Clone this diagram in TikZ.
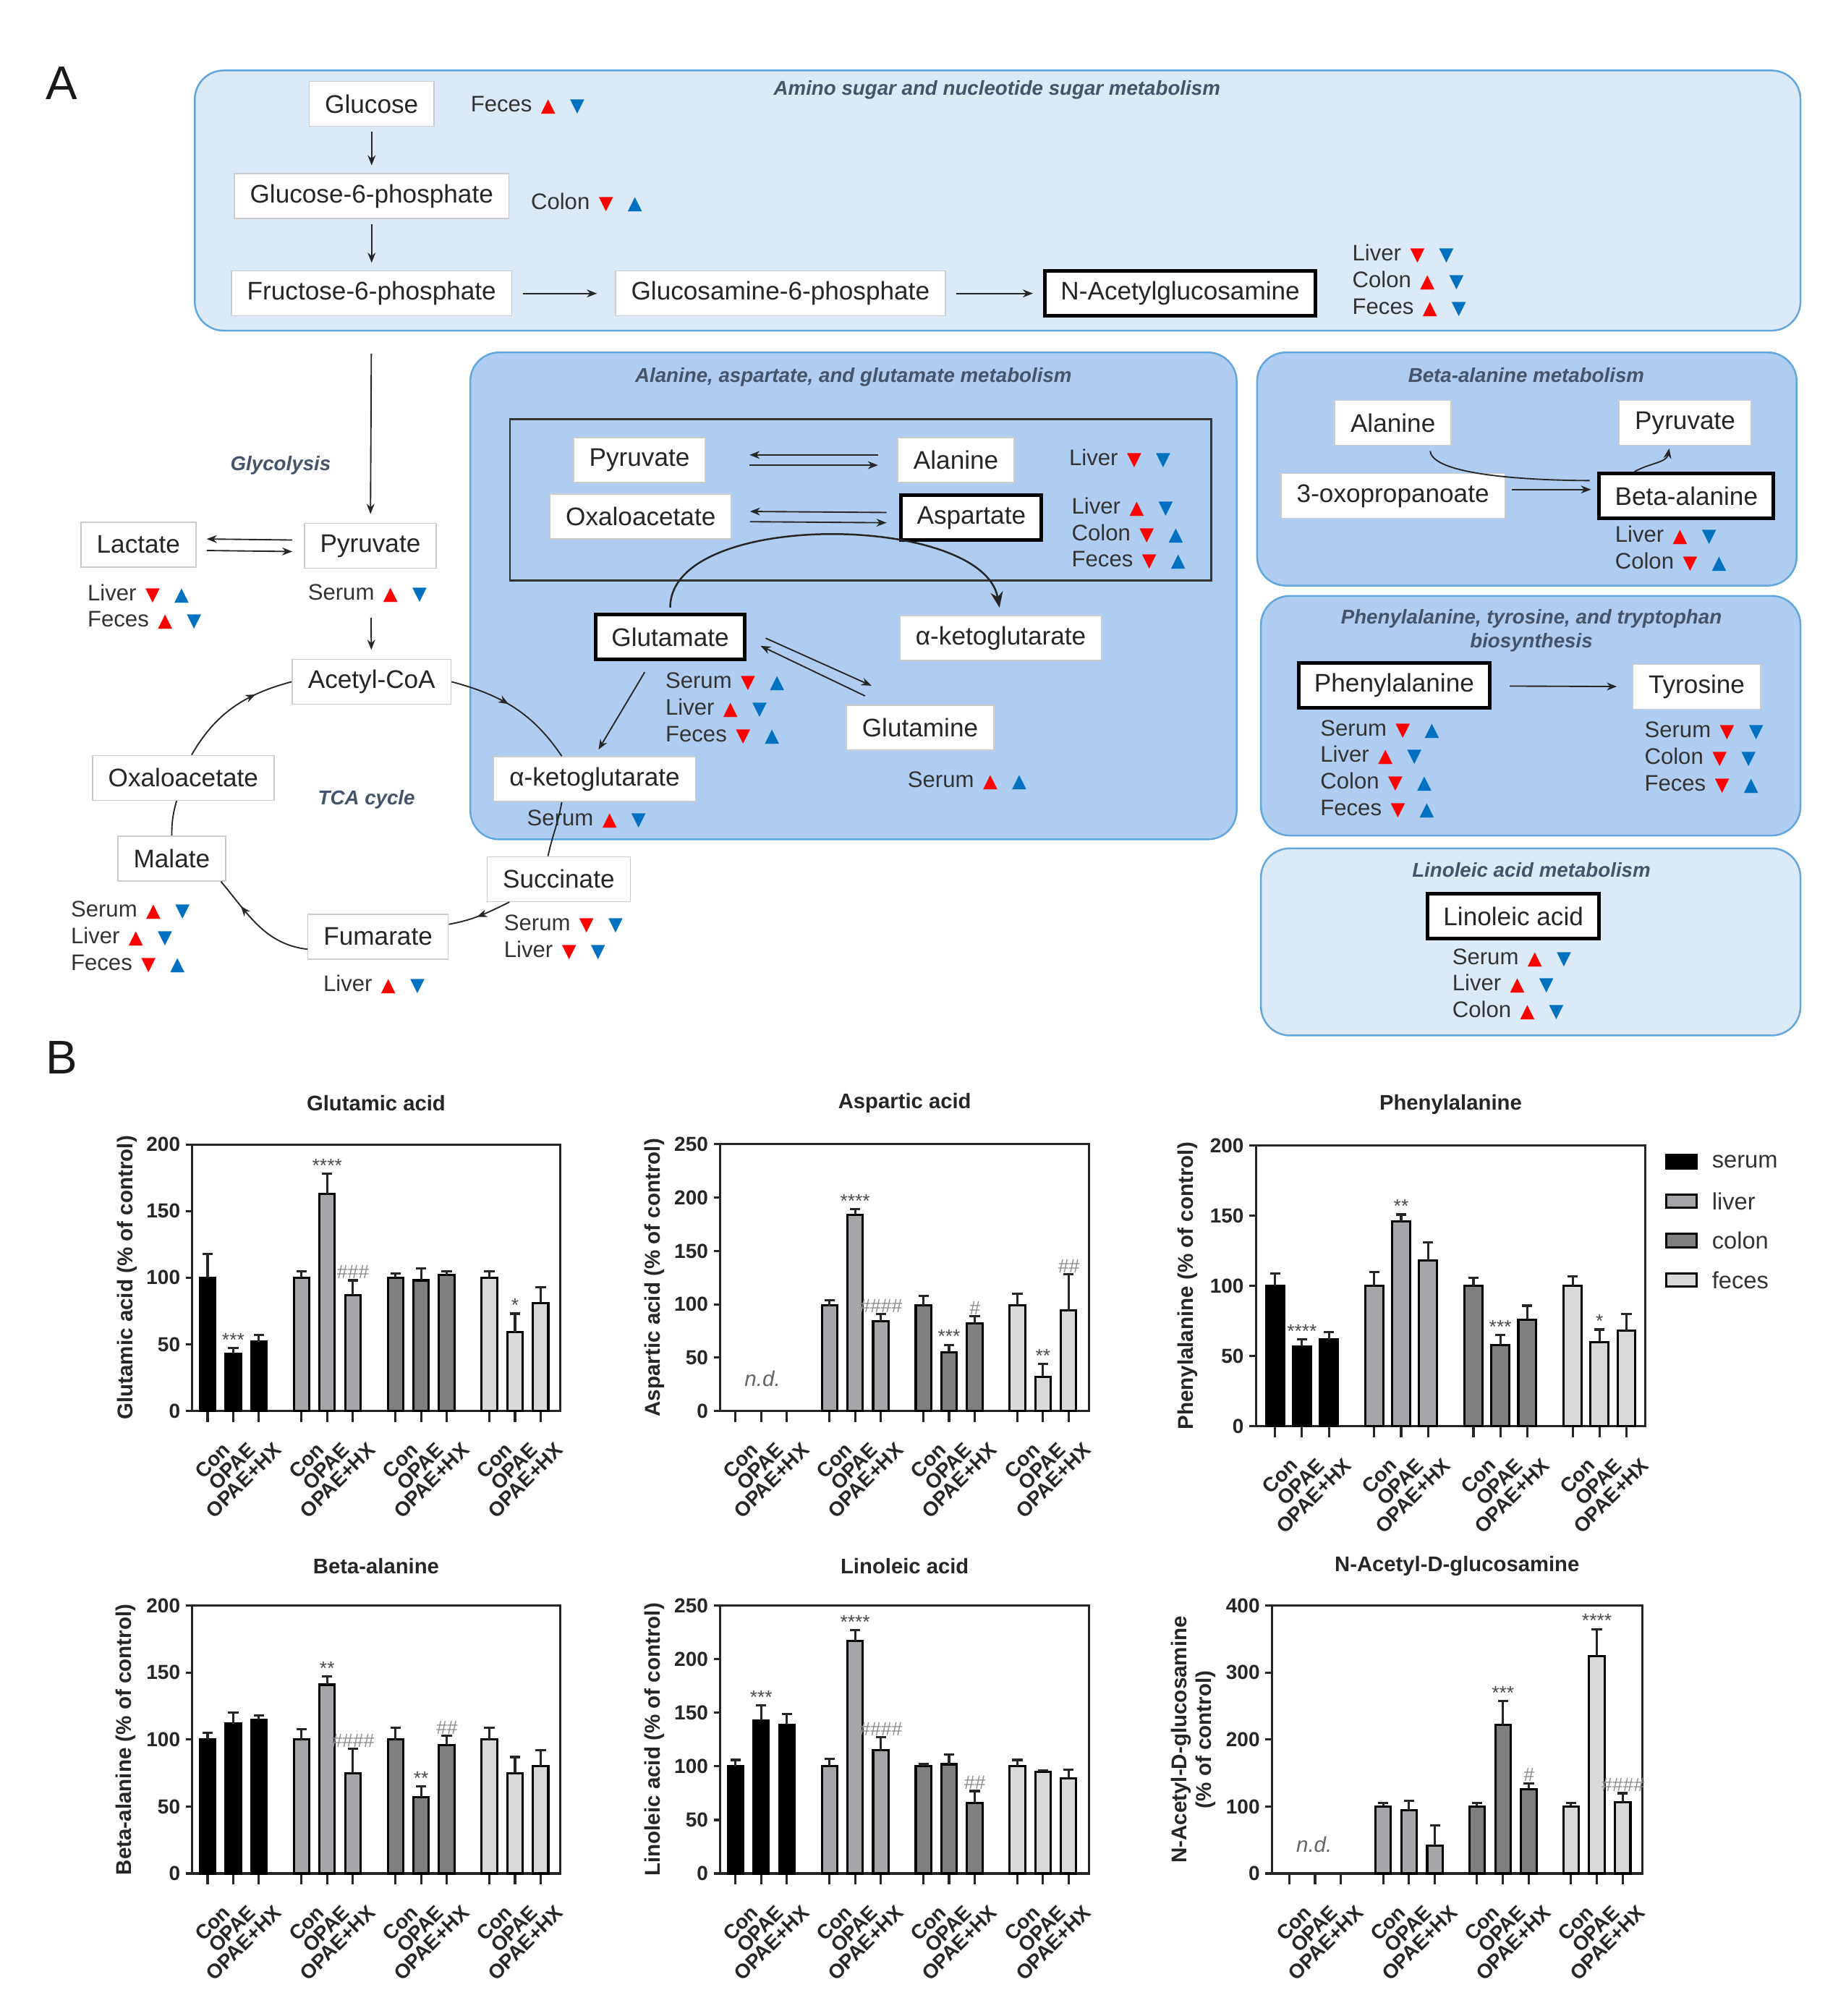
\documentclass[tikz,border=0pt]{standalone}
\usepackage{fontspec}
\setmainfont{Liberation Sans}
\newfontfamily\trisym{DejaVu Sans}
\usetikzlibrary{positioning}
\usetikzlibrary{arrows.meta}
\usetikzlibrary{calc}
\usetikzlibrary{decorations.markings}

\definecolor{pwlight}{HTML}{DCEAF7}
\definecolor{pwmid}{HTML}{AECDF1}
\definecolor{pwedge}{HTML}{62A6DE}
\definecolor{pwtext}{HTML}{44546A}
\definecolor{upred}{HTML}{FF0000}
\definecolor{upblue}{HTML}{0070C0}
\definecolor{tis0}{HTML}{000000}
\definecolor{tis1}{HTML}{A5A5AA}
\definecolor{tis2}{HTML}{7F7F7F}
\definecolor{tis3}{HTML}{D9D9D9}

\newcommand{\metfont}{\fontsize{11.3}{13.5}\selectfont}
\newcommand{\tisfont}{\fontsize{10}{11.8}\selectfont}
\newcommand{\titfont}{\fontsize{8.9}{10.6}\selectfont\bfseries\itshape}
\newcommand{\trifont}{\trisym\fontsize{8.3}{9}\selectfont}
\newcommand{\axfont}{\fontsize{9}{10.8}\selectfont\bfseries}
\newcommand{\upR}{\textcolor{upred}{\trifont ▲}}
\newcommand{\dnR}{\textcolor{upred}{\trifont ▼}}
\newcommand{\upB}{\textcolor{upblue}{\trifont ▲}}
\newcommand{\dnB}{\textcolor{upblue}{\trifont ▼}}
\newcommand{\trend}[3]{#1\hspace{0.4em}#2\hspace{0.65em}#3}
\newcommand{\hsh}[1]{\textcolor{black!45}{\itshape #1}}

% bar layout of one chart: offset, group gap, bar gap, half width
\newcommand{\barlayout}[4]{\def\boff{#1}\def\gsp{#2}\def\bsp{#3}\def\bhw{#4}}
\newcommand{\plotframe}[3]{%
  \draw[axis] (0,0) rectangle (#1,#2);
  \foreach \t in {#3} \draw[axis] (0,\t) -- ++(-0.1cm,0) node[ticklab] {\t};
  \foreach \g in {0,...,3} \foreach \j/\lab in {0/Con,1/OPAE,2/OPAE+HX} {
    \pgfmathsetmacro\bx{\boff+\gsp*\g+\bsp*\j}
    \draw[axis] (\bx,0) -- ++(0,-0.17cm);
    \node[catlab, xshift=-0.18cm, yshift=-0.6cm] at (\bx,0) {\lab};
  }}
\newcommand{\plotbars}[1]{%
  \foreach \g/\j/\v/\e/\m in {#1} {
    \pgfmathsetmacro\bx{\boff+\gsp*\g+\bsp*\j}
    \draw[barbox, fill=tis\g] (\bx-\bhw,0) rectangle (\bx+\bhw,\v);
    \draw[axis] (\bx,\v) -- (\bx,\v+\e) ++(-4,0) -- ++(8,0);
    \node[sig] at (\bx,\v+\e) {\m};
  }}

\tikzset{
  metab/.style={draw=black!20, fill=white, text=black!85, font=\metfont,
    minimum height=0.7cm, inner xsep=7pt, line width=0.5pt},
  keymetab/.style={metab, draw=black, line width=1.6pt}, % highlighted metabolites
  tissue/.style={font=\tisfont, text=black!80, align=left, anchor=west, inner sep=0pt},
  pwtitle/.style={font=\titfont, text=pwtext, align=center},
  panel/.style={draw=pwedge, line width=0.8pt, rounded corners=0.45cm},
  conv/.style={->, draw=black!85, line width=0.6pt, shorten <=0.08cm, shorten >=0.12cm},
  cyc/.style={draw=black!85, line width=0.6pt},
  midarrow/.style={postaction={decorate}, decoration={markings,
    mark=at position #1 with {\arrow{Stealth[length=4.5pt,width=3.5pt]}}}},
  axis/.style={draw=black!85, line width=1pt},
  barbox/.style={draw=black, line width=1pt},
  ticklab/.style={left, font=\axfont, text=black!85, inner sep=2pt},
  catlab/.style={font=\axfont, text=black!85, rotate=45, anchor=east, inner sep=0pt},
  sig/.style={font=\fontsize{8.5}{9}\selectfont, text=black!70, anchor=south, inner sep=0.5pt},
  ptitle/.style={font=\fontsize{9.4}{11}\selectfont\bfseries, text=black!85},
  ylab/.style={font=\fontsize{9.5}{11}\selectfont\bfseries, text=black!85, rotate=90, align=center},
  ndlab/.style={font=\fontsize{9.5}{11}\selectfont\itshape, text=black!60},
  legbox/.style={draw=black, line width=1pt, minimum width=0.47cm, minimum height=0.21cm, inner sep=0pt},
  legtext/.style={font=\fontsize{10.5}{12}\selectfont, text=black!80, inner sep=0pt},
  >={Stealth[length=4.5pt,width=3.5pt]}
}

\begin{document}
\begin{tikzpicture}[x=0.02cm, y=0.02cm]
\useasboundingbox (0,0) rectangle (1440,-1573.2);

% panel A: pathway boxes
\draw[panel, fill=pwlight] (152,-55) rectangle (1405,-258);
\draw[panel, fill=pwmid] (367,-275) rectangle (965,-655);
\draw[panel, fill=pwmid] (981,-275) rectangle (1402,-457);
\draw[panel, fill=pwmid] (984,-465) rectangle (1405,-652);
\draw[panel, fill=pwlight] (984,-662) rectangle (1405,-808);
\draw[black!80, line width=0.9pt] (398,-327) rectangle (945,-453);

\node[font=\fontsize{21}{24}\selectfont, text=black!90] (labA) at (48,-65) {A};
\node[font=\fontsize{21}{24}\selectfont, text=black!90] (labB) at (48,-825) {B};

\node[pwtitle] (tamino) at (778,-70) {Amino sugar and nucleotide sugar metabolism};
\node[pwtitle] (tala) at (666,-294) {Alanine, aspartate, and glutamate metabolism};
\node[pwtitle] (tbeta) at (1191,-293) {Beta-alanine metabolism};
\node[pwtitle] (tphe) at (1195,-492) {Phenylalanine, tyrosine, and tryptophan\\biosynthesis};
\node[pwtitle] (tlin) at (1195,-679) {Linoleic acid metabolism};
\node[pwtitle] (tglyc) at (219,-363) {Glycolysis};
\node[pwtitle] (ttca) at (286,-624) {TCA cycle};

% metabolites
\node[metab] (glc) at (290,-81) {Glucose};
\node[metab] (g6p) at (290,-153) {Glucose-6-phosphate};
\node[metab] (f6p) at (290,-229) {Fructose-6-phosphate};
\node[metab] (gn6p) at (609,-229) {Glucosamine-6-phosphate};
\node[keymetab] (nag) at (921,-229) {N-Acetylglucosamine};
\node[metab] (lac) at (108,-425) {Lactate};
\node[metab] (pyr1) at (289,-426) {Pyruvate};
\node[metab] (acoa) at (290,-532) {Acetyl-CoA};
\node[metab] (oaa1) at (143,-607) {Oxaloacetate};
\node[metab] (mal) at (134,-670) {Malate};
\node[metab] (fum) at (295,-731) {Fumarate};
\node[metab] (succ) at (436,-686) {Succinate};
\node[metab] (akg2) at (464,-608) {α-ketoglutarate};
\node[metab] (pyr2) at (499,-359) {Pyruvate};
\node[metab] (ala1) at (746,-359) {Alanine};
\node[metab] (oaa2) at (500,-403) {Oxaloacetate};
\node[keymetab] (asp) at (758,-404) {Aspartate};
\node[keymetab] (glu) at (523,-497) {Glutamate};
\node[metab] (akg1) at (781,-498) {α-ketoglutarate};
\node[metab] (gln) at (718,-568) {Glutamine};
\node[metab] (ala2) at (1087,-330) {Alanine};
\node[metab] (pyr3) at (1315,-330) {Pyruvate};
\node[metab] (oxo) at (1087,-387) {3-oxopropanoate};
\node[keymetab] (bala) at (1316,-387) {Beta-alanine};
\node[keymetab] (phe) at (1088,-535) {Phenylalanine};
\node[metab] (tyr) at (1324,-536) {Tyrosine};
\node[keymetab] (lin) at (1181,-715) {Linoleic acid};

% tissue trends
\node[tissue] (tglc) at (367,-82) {\trend{Feces}{\upR}{\dnB}};
\node[tissue] (tg6p) at (414,-158) {\trend{Colon}{\dnR}{\upB}};
\node[tissue] (tnag) at (1055,-219) {\trend{Liver}{\dnR}{\dnB}\\\trend{Colon}{\upR}{\dnB}\\\trend{Feces}{\upR}{\dnB}};
\node[tissue] (tlac) at (68,-473.5) {\trend{Liver}{\dnR}{\upB}\\\trend{Feces}{\upR}{\dnB}};
\node[tissue] (tpyr1) at (240,-463) {\trend{Serum}{\upR}{\dnB}};
\node[tissue] (tmal) at (55,-731) {\trend{Serum}{\upR}{\dnB}\\\trend{Liver}{\upR}{\dnB}\\\trend{Feces}{\dnR}{\upB}};
\node[tissue] (tfum) at (252,-768) {\trend{Liver}{\upR}{\dnB}};
\node[tissue] (tsucc) at (393,-731.5) {\trend{Serum}{\dnR}{\dnB}\\\trend{Liver}{\dnR}{\dnB}};
\node[tissue] (takg2) at (411,-639) {\trend{Serum}{\upR}{\dnB}};
\node[tissue] (tala1) at (834,-358) {\trend{Liver}{\dnR}{\dnB}};
\node[tissue] (tasp) at (836,-416.3) {\trend{Liver}{\upR}{\dnB}\\\trend{Colon}{\dnR}{\upB}\\\trend{Feces}{\dnR}{\upB}};
\node[tissue] (tglu) at (519,-552.7) {\trend{Serum}{\dnR}{\upB}\\\trend{Liver}{\upR}{\dnB}\\\trend{Feces}{\dnR}{\upB}};
\node[tissue] (tgln) at (708,-609) {\trend{Serum}{\upR}{\upB}};
\node[tissue] (tbala) at (1260,-428) {\trend{Liver}{\upR}{\dnB}\\\trend{Colon}{\dnR}{\upB}};
\node[tissue] (tphe1) at (1030,-600) {\trend{Serum}{\dnR}{\upB}\\\trend{Liver}{\upR}{\dnB}\\\trend{Colon}{\dnR}{\upB}\\\trend{Feces}{\dnR}{\upB}};
\node[tissue] (ttyr) at (1283,-591) {\trend{Serum}{\dnR}{\dnB}\\\trend{Colon}{\dnR}{\dnB}\\\trend{Feces}{\dnR}{\upB}};
\node[tissue] (tlin1) at (1133,-768) {\trend{Serum}{\upR}{\dnB}\\\trend{Liver}{\upR}{\dnB}\\\trend{Colon}{\upR}{\dnB}};

% conversions
\draw[conv] (glc) -- (g6p);
\draw[conv] (g6p) -- (f6p);
\draw[conv, shorten <=0.16cm, shorten >=0.28cm] (f6p) -- (gn6p);
\draw[conv, shorten <=0.16cm, shorten >=0.16cm] (gn6p) -- (nag);
\draw[conv, shorten <=0.58cm, shorten >=0.14cm] (f6p) -- (pyr1);
\draw[conv, shorten <=0.18cm, shorten >=0.16cm] ([yshift=0.09cm]pyr1.west) -- ([yshift=0.09cm]lac.east);
\draw[conv, shorten <=0.16cm, shorten >=0.18cm] ([yshift=-0.09cm]lac.east) -- ([yshift=-0.09cm]pyr1.west);
\draw[conv, shorten <=0.76cm, shorten >=0.14cm] (pyr1) -- (acoa);

% TCA cycle
\draw[cyc, midarrow=0.7] (oaa1.70) to[out=60, in=195] (acoa.west);
\draw[cyc, midarrow=0.45] (acoa.east) to[out=-15, in=124] (akg2.145);
\draw[cyc] (akg2.-145) to[out=-100, in=78] (succ.115);
\draw[cyc, midarrow=0.55] (succ.-155) to[out=206, in=10] (fum.10);
\draw[cyc, midarrow=0.72] (fum.190) to[out=173, in=-50] (mal.-25);
\draw[cyc] (mal) to[bend left=8] (oaa1);

% alanine, aspartate and glutamate
\draw[conv, shorten <=0.3cm, shorten >=0.68cm] ([yshift=0.08cm]ala1.west) -- ([yshift=0.08cm]pyr2.east);
\draw[conv, shorten <=0.68cm, shorten >=0.3cm] ([yshift=-0.08cm]pyr2.east) -- ([yshift=-0.08cm]ala1.west);
\draw[conv, shorten <=0.2cm, shorten >=0.28cm] ([yshift=0.08cm]asp.west) -- ([yshift=0.08cm]oaa2.east);
\draw[conv, shorten <=0.28cm, shorten >=0.2cm] ([yshift=-0.08cm]oaa2.east) -- ([yshift=-0.08cm]asp.west);
\draw[conv, line width=0.8pt, -{Stealth[length=7pt,width=5.5pt]}, looseness=0.8] (glu.north) to[out=90, in=100] (akg1.north);
\draw[conv, shorten <=0.2cm] (glu.-128) -- (akg2.north);
\draw[conv, shorten <=0pt, shorten >=0pt] ($(glu.east)+(15,-1)$) -- ($(gln.north)+(-38,15)$);
\draw[conv, shorten <=0pt, shorten >=0pt] ($(gln.north)+(-43,7)$) -- ($(glu.east)+(11,-7)$);

% beta-alanine, phenylalanine
\draw[conv, -, looseness=0.5] (ala2.-32) to[out=-85, in=180] ([yshift=0.24cm]bala.west);
\draw[conv, shorten <=0.1cm, shorten >=0.1cm] ([yshift=0.1cm]oxo.east) -- ([yshift=0.1cm]bala.west);
\draw[conv, shorten <=0pt, shorten >=0.04cm] (bala.155) to[out=30, in=-100] (pyr3.-124);
\draw[conv, shorten <=0.28cm, shorten >=0.24cm] (phe) -- (tyr);

% panel B: bar charts
\barlayout{12}{73.3}{20}{6}
\begin{scope}[shift={(150,-1101)}, y=0.0208cm]
  \plotframe{287}{200}{0,50,...,200}
  \plotbars{0/0/100/18/{}, 0/1/43/4/***, 0/2/52/5/{}, 1/0/100/5/{}, 1/1/163/15/****, 1/2/87/11/\hsh{\#\#\#},
    2/0/100/3/{}, 2/1/98/9/{}, 2/2/102/3/{}, 3/0/100/5/{}, 3/1/59/14/*, 3/2/81/12/{}}
  \node[ptitle, yshift=0.64cm] (glut) at (143.5,200) {Glutamic acid};
  \node[ylab] (gluy) at (-51,100) {Glutamic acid (\% of control)};
\end{scope}

\begin{scope}[shift={(562,-1101)}, y=0.01664cm]
  \plotframe{288}{250}{0,50,...,250}
  \plotbars{1/0/99/5/{}, 1/1/184/5/****, 1/2/84/7/\hsh{\#\#\#\#}, 2/0/99/9/{}, 2/1/55/7/***, 2/2/82/7/\hsh{\#},
    3/0/99/11/{}, 3/1/32/12/**, 3/2/94/34/\hsh{\#\#}}
  \node[ndlab] (aspnd) at (33,30) {n.d.};
  \node[ptitle, yshift=0.64cm] (aspt) at (144,250) {Aspartic acid};
  \node[ylab] (aspy) at (-51,125) {Aspartic acid (\% of control)};
\end{scope}

\barlayout{15}{77.4}{21}{7}
\begin{scope}[shift={(980,-1113)}, y=0.0219cm]
  \plotframe{304}{200}{0,50,...,200}
  \plotbars{0/0/100/9/{}, 0/1/57/5/****, 0/2/62/5/{}, 1/0/100/10/{}, 1/1/146/5/**, 1/2/118/13/{},
    2/0/100/6/{}, 2/1/58/7/***, 2/2/76/10/{}, 3/0/100/7/{}, 3/1/60/9/*, 3/2/68/12/{}}
  \node[ptitle, yshift=0.64cm] (phet) at (152,200) {Phenylalanine};
  \node[ylab] (phey) at (-53,100) {Phenylalanine (\% of control)};
\end{scope}

\foreach \k/\lab in {0/serum,1/liver,2/colon,3/feces} {
  \node[legbox, fill=tis\k] (leg\k) at (1312,-906.5-30.8*\k) {};
  \node[legtext, right=0.22cm of leg\k] (legt\k) {\lab};
}

\barlayout{12}{73.3}{20}{6}
\begin{scope}[shift={(150,-1462)}, y=0.0209cm]
  \plotframe{287}{200}{0,50,...,200}
  \plotbars{0/0/100/5/{}, 0/1/112/8/{}, 0/2/115/3/{}, 1/0/100/8/{}, 1/1/141/6/**, 1/2/75/18/\hsh{\#\#\#\#},
    2/0/100/9/{}, 2/1/57/8/**, 2/2/96/7/\hsh{\#\#}, 3/0/100/9/{}, 3/1/75/12/{}, 3/2/80/12/{}}
  \node[ptitle, yshift=0.62cm] (balt) at (143.5,200) {Beta-alanine};
  \node[ylab] (baly) at (-52,100) {Beta-alanine (\% of control)};
\end{scope}

\begin{scope}[shift={(562,-1462)}, y=0.01672cm]
  \plotframe{288}{250}{0,50,...,250}
  \plotbars{0/0/100/6/{}, 0/1/143/14/***, 0/2/139/10/{}, 1/0/100/7/{}, 1/1/217/10/****, 1/2/115/12/\hsh{\#\#\#\#},
    2/0/100/2/{}, 2/1/102/9/{}, 2/2/66/11/\hsh{\#\#}, 3/0/100/6/{}, 3/1/95/1/{}, 3/2/89/8/{}}
  \node[ptitle, yshift=0.62cm] (lint) at (144,250) {Linoleic acid};
  \node[ylab] (liny) at (-51,125) {Linoleic acid (\% of control)};
\end{scope}

\barlayout{13.5}{73.3}{20.2}{6}
\begin{scope}[shift={(992.5,-1462)}, y=0.01045cm]
  \plotframe{289}{400}{0,100,...,400}
  \plotbars{1/0/100/5/{}, 1/1/95/14/{}, 1/2/42/30/{}, 2/0/100/5/{}, 2/1/222/36/***, 2/2/126/9/\hsh{\#},
    3/0/100/5/{}, 3/1/325/40/****, 3/2/106/14/\hsh{\#\#\#\#}}
  \node[ndlab] (nagnd) at (33,43) {n.d.};
  \node[ptitle, yshift=0.62cm] (nagt) at (144.5,400) {N-Acetyl-D-glucosamine};
  \node[ylab] (nagy) at (-61,200) {N-Acetyl-D-glucosamine\\(\% of control)};
\end{scope}
\end{tikzpicture}
\end{document}
